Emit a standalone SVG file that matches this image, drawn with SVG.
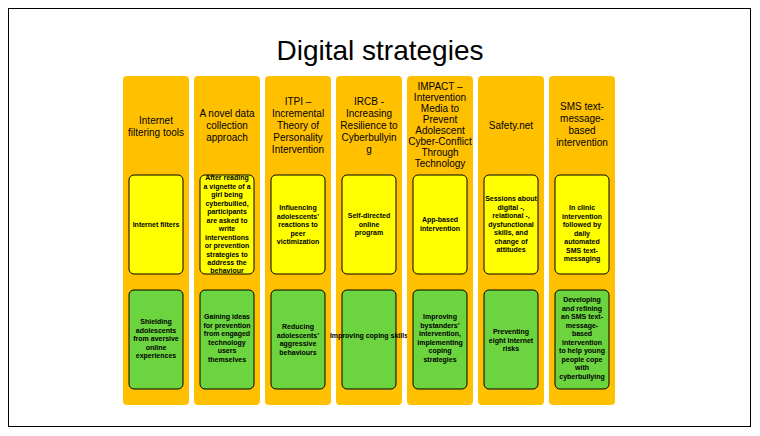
<svg xmlns="http://www.w3.org/2000/svg" width="760" height="436" viewBox="0 0 760 436">
<style>
text{font-family:"Liberation Sans",Arial,sans-serif;fill:#000;text-anchor:middle}
.col{fill:#FFC000;stroke:none}
.y{fill:#FFFF00;stroke:#000;stroke-width:1}
.g{fill:#6CD43F;stroke:#000;stroke-width:1}
.h{font-size:10px}
.s{font-size:7px;font-weight:bold}
</style>
<rect x="0" y="0" width="760" height="436" fill="#fff"/>
<rect x="8.5" y="8.5" width="742" height="418" fill="none" stroke="#000" stroke-width="1"/>
<text x="380" y="60" style="font-size:28px">Digital strategies</text>
<g id="col1"><rect class="col" x="123" y="76" width="66" height="329" rx="4"/>
<text class="h" x="156" y="124">Internet</text><text class="h" x="156" y="136">filtering tools</text>
<rect class="y" x="129" y="175" width="54" height="99" rx="5"/>
<text class="s" x="156" y="227">Internet filters</text>
<rect class="g" x="129" y="290" width="54" height="99" rx="5"/>
<text class="s" x="156" y="324">Shielding</text><text class="s" x="156" y="332.5">adolescents</text><text class="s" x="156" y="341">from aversive</text><text class="s" x="156" y="349.5">online</text><text class="s" x="156" y="358">experiences</text></g>
<g id="col2"><rect class="col" x="194" y="76" width="66" height="329" rx="4"/>
<text class="h" x="227" y="117">A novel data</text><text class="h" x="227" y="129">collection</text><text class="h" x="227" y="141">approach</text>
<rect class="y" x="200" y="175" width="54" height="99" rx="5"/>
<text class="s" x="227" y="180">After reading</text><text class="s" x="227" y="188.5">a vignette of a</text><text class="s" x="227" y="197">girl being</text><text class="s" x="227" y="205.5">cyberbullied,</text><text class="s" x="227" y="214">participants</text><text class="s" x="227" y="222.5">are asked to</text><text class="s" x="227" y="231">write</text><text class="s" x="227" y="239.5">interventions</text><text class="s" x="227" y="248">or prevention</text><text class="s" x="227" y="256.5">strategies to</text><text class="s" x="227" y="265">address the</text><text class="s" x="227" y="273">behaviour</text>
<rect class="g" x="200" y="290" width="54" height="99" rx="5"/>
<text class="s" x="227" y="319">Gaining ideas</text><text class="s" x="227" y="327.5">for prevention</text><text class="s" x="227" y="336">from engaged</text><text class="s" x="227" y="344.5">technology</text><text class="s" x="227" y="353">users</text><text class="s" x="227" y="361.5">themselves</text></g>
<g id="col3"><rect class="col" x="265" y="76" width="66" height="329" rx="4"/>
<text class="h" x="298" y="105">ITPI –</text><text class="h" x="298" y="117">Incremental</text><text class="h" x="298" y="129">Theory of</text><text class="h" x="298" y="141">Personality</text><text class="h" x="298" y="153">Intervention</text>
<rect class="y" x="271" y="175" width="54" height="99" rx="5"/>
<text class="s" x="298" y="210">Influencing</text><text class="s" x="298" y="218.5">adolescents’</text><text class="s" x="298" y="227">reactions to</text><text class="s" x="298" y="235.5">peer</text><text class="s" x="298" y="244">victimization</text>
<rect class="g" x="271" y="290" width="54" height="99" rx="5"/>
<text class="s" x="298" y="329">Reducing</text><text class="s" x="298" y="337.5">adolescents’</text><text class="s" x="298" y="346">aggressive</text><text class="s" x="298" y="354.5">behaviours</text></g>
<g id="col4"><rect class="col" x="336" y="76" width="66" height="329" rx="4"/>
<text class="h" x="369" y="105">IRCB -</text><text class="h" x="369" y="117">Increasing</text><text class="h" x="369" y="129">Resilience to</text><text class="h" x="369" y="141">Cyberbullyin</text><text class="h" x="369" y="153">g</text>
<rect class="y" x="342" y="175" width="54" height="99" rx="5"/>
<text class="s" x="369" y="218">Self-directed</text><text class="s" x="369" y="226.5">online</text><text class="s" x="369" y="235">program</text>
<rect class="g" x="342" y="290" width="54" height="99" rx="5"/>
<text class="s" x="369" y="338">Improving coping skills</text></g>
<g id="col5"><rect class="col" x="407" y="76" width="66" height="329" rx="4"/>
<text class="h" x="440" y="90">IMPACT –</text><text class="h" x="440" y="101">Intervention</text><text class="h" x="440" y="112">Media to</text><text class="h" x="440" y="123">Prevent</text><text class="h" x="440" y="134">Adolescent</text><text class="h" x="440" y="145">Cyber-Conflict</text><text class="h" x="440" y="156">Through</text><text class="h" x="440" y="167">Technology</text>
<rect class="y" x="413" y="175" width="54" height="99" rx="5"/>
<text class="s" x="440" y="222">App-based</text><text class="s" x="440" y="230.5">intervention</text>
<rect class="g" x="413" y="290" width="54" height="99" rx="5"/>
<text class="s" x="440" y="319">Improving</text><text class="s" x="440" y="327.5">bystanders’</text><text class="s" x="440" y="336">intervention,</text><text class="s" x="440" y="344.5">implementing</text><text class="s" x="440" y="353">coping</text><text class="s" x="440" y="361.5">strategies</text></g>
<g id="col6"><rect class="col" x="478" y="76" width="66" height="329" rx="4"/>
<text class="h" x="511" y="129">Safety.net</text>
<rect class="y" x="484" y="175" width="54" height="99" rx="5"/>
<text class="s" x="511" y="201">Sessions about</text><text class="s" x="511" y="209.5">digital -,</text><text class="s" x="511" y="218">relational -,</text><text class="s" x="511" y="226.5">dysfunctional</text><text class="s" x="511" y="235">skills, and</text><text class="s" x="511" y="243.5">change of</text><text class="s" x="511" y="252">attitudes</text>
<rect class="g" x="484" y="290" width="54" height="99" rx="5"/>
<text class="s" x="511" y="334">Preventing</text><text class="s" x="511" y="342.5">eight Internet</text><text class="s" x="511" y="351">risks</text></g>
<g id="col7"><rect class="col" x="549" y="76" width="66" height="329" rx="4"/>
<text class="h" x="582" y="110">SMS text-</text><text class="h" x="582" y="122">message-</text><text class="h" x="582" y="134">based</text><text class="h" x="582" y="146">intervention</text>
<rect class="y" x="555" y="175" width="54" height="99" rx="5"/>
<text class="s" x="582" y="210">In clinic</text><text class="s" x="582" y="218.5">intervention</text><text class="s" x="582" y="227">followed by</text><text class="s" x="582" y="235.5">daily</text><text class="s" x="582" y="244">automated</text><text class="s" x="582" y="252.5">SMS text-</text><text class="s" x="582" y="261">messaging</text>
<rect class="g" x="555" y="290" width="54" height="99" rx="5"/>
<text class="s" x="582" y="302">Developing</text><text class="s" x="582" y="310.5">and refining</text><text class="s" x="582" y="319">an SMS text-</text><text class="s" x="582" y="327.5">message-</text><text class="s" x="582" y="336">based</text><text class="s" x="582" y="344.5">intervention</text><text class="s" x="582" y="353">to help young</text><text class="s" x="582" y="361.5">people cope</text><text class="s" x="582" y="370">with</text><text class="s" x="582" y="378.5">cyberbullying</text></g>
<g id="connectors"></g>
</svg>
